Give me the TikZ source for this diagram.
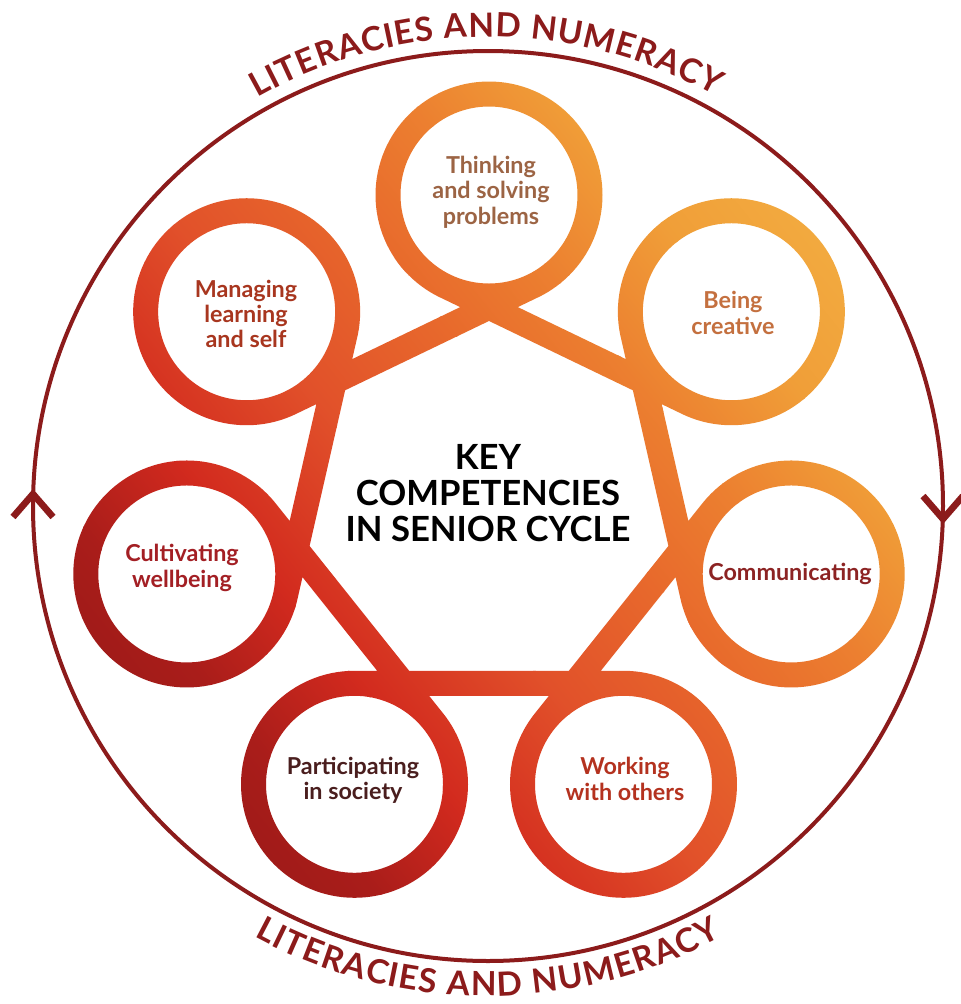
\documentclass[tikz,border=0pt]{standalone}
\usepackage{fontspec}
\setmainfont{Lato}
\newfontfamily\arcfont{Lato}
\usetikzlibrary{calc,decorations.text}
\definecolor{ringred}{HTML}{8C1B1B}
\definecolor{g0}{HTML}{841414}
\definecolor{g1}{HTML}{AA1D1A}
\definecolor{g2}{HTML}{D22A1E}
\definecolor{g3}{HTML}{E1502A}
\definecolor{g4}{HTML}{E86A2C}
\definecolor{g5}{HTML}{EC8030}
\definecolor{g6}{HTML}{F09E38}
\definecolor{g7}{HTML}{F6BC4A}
\definecolor{tThink}{HTML}{9C6444}
\definecolor{tCreat}{HTML}{C4703F}
\definecolor{tComm}{HTML}{8C2323}
\definecolor{tWork}{HTML}{B4321F}
\definecolor{tPart}{HTML}{4A1E1E}
\definecolor{tCult}{HTML}{A31F24}
\definecolor{tMan}{HTML}{A8361F}
\begin{document}
\begin{tikzpicture}[x=0.75pt,y=0.75pt,
  lbl/.style={align=center, font=\bfseries\fontsize{17.5}{19}\selectfont, inner sep=0pt},
  title/.style={align=center, font=\bfseries\fontsize{26}{27}\selectfont, inner sep=0pt, text=black},
  ring/.style={draw=ringred, line width=3pt},
  chev/.style={draw=ringred, line width=5pt, line cap=butt, line join=miter},
  arctext/.style={decorate, decoration={text along path, text align=fit to path, text color=ringred,
      text={|\arcfont\bfseries\fontsize{25}{25}\selectfont|#1}}}]
\useasboundingbox (0,-1004) rectangle (961,0);
\fill[white] (0,-1004) rectangle (961,0);
% geometry of the knot
\coordinate (O) at (489,-505);
\foreach \k in {0,...,6} {
  \coordinate (C\k) at ($(O)+({90-\k*360/7}:310)$);
  \coordinate (V\k) at ($(O)+({90-\k*360/7}:197.9)$);
}
\foreach \k in {0,...,6} {
  \pgfmathtruncatemacro{\n}{mod(\k+1,7)}
  \coordinate (B\k) at ($(V\k)!(C\k)!(V\n)$);
  \coordinate (A\n) at ($(V\k)!(C\n)!(V\n)$);
}
% the band, filled with a linear gradient
\begin{scope}
\clip \foreach \k in {0,...,6} {
    (C\k) circle[radius=113.5]
    ($(C\k)+(88.5,0)$) arc[start angle=0, end angle=-360, radius=88.5]
  }
  \foreach \k/\n in {0/1,1/2,2/3,3/4,4/5,5/6,6/0} {
    ($(B\k)!9.375pt!90:(A\n)$) -- ($(B\k)!9.375pt!-90:(A\n)$) -- ($(A\n)!9.375pt!90:(B\k)$) -- ($(A\n)!9.375pt!-90:(B\k)$) -- cycle
  };
\begin{scope}[transform canvas={shift={(O)},rotate=39}]
  \shade[left color=g0,right color=g1] (-600,-700) rectangle (-328,700);
  \shade[left color=g1,right color=g2] (-330,-700) rectangle (-213,700);
  \shade[left color=g2,right color=g3] (-215,-700) rectangle (-68,700);
  \shade[left color=g3,right color=g4] (-70,-700) rectangle (82,700);
  \shade[left color=g4,right color=g5] (80,-700) rectangle (196,700);
  \shade[left color=g5,right color=g6] (194,-700) rectangle (313,700);
  \shade[left color=g6,right color=g7] (311,-700) rectangle (600,700);
\end{scope}
\end{scope}
% outer ring
\coordinate (R) at (488,-506);
\draw[ring] (R) circle[radius=455];
\path[arctext={LITERACIES AND NUMERACY}] ($(R)+(119.5:469)$) arc[start angle=119.5, end angle=61, radius=469];
\path[arctext={LITERACIES AND NUMERACY}] ($(R)+(241.5:490)$) arc[start angle=241.5, end angle=298.5, radius=490];
\coordinate (LA) at (33,-494);
\coordinate (LA1) at (13,-517);
\coordinate (LA2) at (53,-517);
\draw[chev] (LA1) -- (LA) -- (LA2);
\coordinate (RA) at (943,-519);
\coordinate (RA1) at (923,-496);
\coordinate (RA2) at (963,-496);
\draw[chev] (RA1) -- (RA) -- (RA2);
% labels
\node[title] (key) at (488,-493) {KEY\\COMPETENCIES\\IN SENIOR CYCLE};
\node[lbl, text=tThink] (think) at (491,-192) {Thinking\\and solving\\problems};
\node[lbl, text=tCreat] (creat) at (733,-313) {Being\\creative};
\node[lbl, text=tComm] (comm) at (790,-574) {Communicating};
\node[lbl, text=tWork] (work) at (625,-779) {Working\\with others};
\node[lbl, text=tPart] (part) at (353,-780) {Participating\\in society};
\node[lbl, text=tCult] (cult) at (182,-568) {Cultivating\\wellbeing};
\node[lbl, text=tMan] (man) at (246,-314) {Managing\\learning\\and self};
\end{tikzpicture}
\end{document}
